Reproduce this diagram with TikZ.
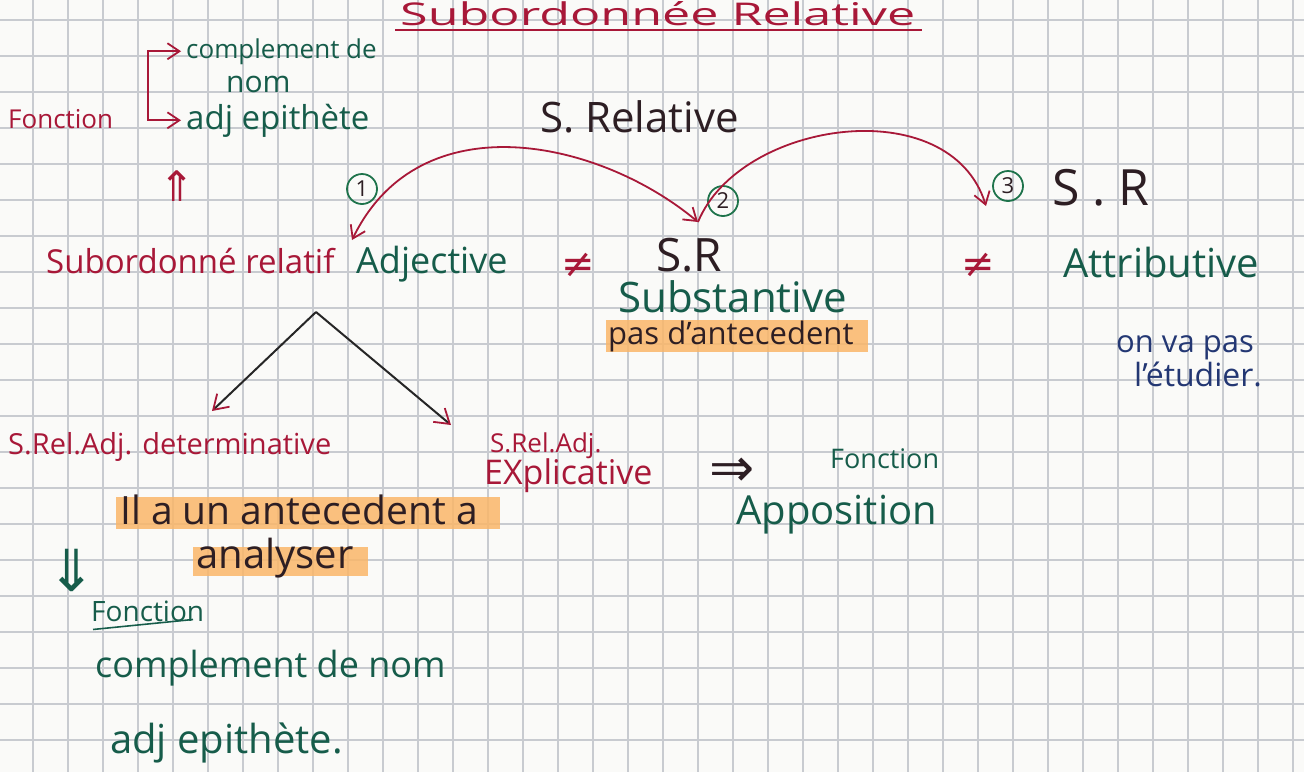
\documentclass[tikz,border=0pt]{standalone}
\usepackage{fontspec}
\setmainfont{Open Sans}
\newfontfamily\symf{DejaVu Sans}
\usetikzlibrary{arrows.meta}
\definecolor{cred}{RGB}{168,24,56}
\definecolor{cgreen}{RGB}{22,92,74}
\definecolor{cdark}{RGB}{45,30,35}
\definecolor{cblue}{RGB}{35,55,115}
\definecolor{ccirc}{RGB}{30,115,75}
\definecolor{chl}{RGB}{250,182,105}
\definecolor{cgrid}{RGB}{200,203,208}
\definecolor{cpaper}{RGB}{250,250,248}
\newcommand\fs[1]{\fontsize{#1}{#1}\selectfont}
\tikzset{
  txt/.style={inner sep=0pt, anchor=base west},
  sym/.style={inner sep=0pt, font=\symf\fs{#1}},
  circ/.style={circle, draw=ccirc, line width=1.8pt, inner sep=1pt, minimum size=30pt, text=cdark, font=\fs{22}},
  redarrow/.style={draw=cred, line width=1.8pt, -{Straight Barb[length=12pt,width=16pt,line width=1.8pt]}},
  redboth/.style={draw=cred, line width=1.8pt, {Straight Barb[length=12pt,width=16pt,line width=1.8pt]}-{Straight Barb[length=12pt,width=16pt,line width=1.8pt]}},
  treearrow/.style={draw=black!85, line width=2pt, -{Straight Barb[length=14pt,width=18pt,line width=1.8pt,color=cred]}},
  hl/.style={fill=chl, draw=none, opacity=0.85}
}
\begin{document}
\begin{tikzpicture}[x=1pt,y=-1pt]
\useasboundingbox (0,0) rectangle (1304,772);
\fill[cpaper] (0,0) rectangle (1304,772);
% grid paper
\foreach \i in {0,...,36} \draw[cgrid, line width=1.2pt] ({33+\i*35},0) -- ++(0,772);
\foreach \j in {0,...,21} \draw[cgrid, line width=1.2pt] (0,{20+\j*36}) -- ++(1304,0);
% highlights
\fill[hl] (606,320) rectangle (868,352);
\fill[hl] (116,497) rectangle (500,529);
\fill[hl] (193,547) rectangle (368,576);
% title
\node[txt, text=cred] (title) at (400,25) {\resizebox{515pt}{24pt}{\fs{32}Subordonnée Relative}};
\draw[cred, line width=2pt] (395,30) -- (922,30);
% top-left
\node[txt, text=cred, font=\fs{26}] (fonc1) at (8,128) {Fonction};
\node[txt, text=cgreen, font=\fs{26}] (comp1) at (186,58) {complement de};
\node[txt, text=cgreen, font=\fs{30}] (nom1) at (226,92) {nom};
\node[txt, text=cgreen, font=\fs{33}] (adjep1) at (186,129) {adj epithète};
\coordinate (bx) at (148,90);
\draw[redboth] ([xshift=-5pt]comp1.west) -| (bx) |- ([xshift=-5pt]adjep1.west);
\node[sym=42, text=cred] (uparr) at (177,186) {⇑};
% S. Relative
\node[txt, text=cdark, font=\fs{42}] (srel) at (540,132) {S. Relative};
% circled numbers
\node[circ] (c1) at (362,189) {1};
\node[circ] (c2) at (723,201) {2};
\node[circ] (c3) at (1008,186) {3};
% main row
\node[txt, text=cred, font=\fs{33}] (subrel) at (46,273) {Subordonné relatif};
\node[txt, text=cgreen, font=\fs{36}] (adjective) at (356,273) {Adjective};
\node[sym=40, text=cred] (neq1) at (578,265) {≠};
\node[txt, text=cdark, font=\fs{46}] (sr2) at (656,271) {S.R};
\node[txt, text=cgreen, font=\fs{42}] (subst) at (618,312) {Substantive};
\node[txt, text=cdark, font=\fs{31}] (pasant) at (608,344) {pas d'antecedent};
\node[sym=40, text=cred] (neq2) at (978,265) {≠};
\node[txt, text=cdark, font=\fs{50}] (sr3) at (1052,205) {S . R};
\node[txt, text=cgreen, font=\fs{40}] (attr) at (1063,277) {Attributive};
\node[txt, text=cblue, font=\fs{31}] (onva) at (1116,352) {on va pas};
\node[txt, text=cblue, font=\fs{32}] (etud) at (1134,386) {l'étudier.};
% curved arrows
\coordinate (tipA) at (352,240);
\coordinate (j) at (698,222);
\coordinate (tipC) at (986,206);
\draw[redboth] (tipA) .. controls (420,100) and (600,140) .. (j);
\draw[redarrow] (j) .. controls (740,120) and (950,90) .. (tipC);
% tree
\coordinate (apex) at (316,312);
\coordinate (tipL) at (212,411);
\coordinate (tipR) at (451,425);
\draw[treearrow] (apex) -- (tipL);
\draw[treearrow] (apex) -- (tipR);
% lower left
\node[txt, text=cred, font=\fs{29}] (det) at (8,454) {S.Rel.Adj. determinative};
\node[txt, text=cdark, font=\fs{39}] (ilaun) at (120,524) {Il a un antecedent a};
\node[txt, text=cdark, font=\fs{40}] (analy) at (196,568) {analyser};
\node[sym=58, text=cgreen] (downarr) at (72,570) {⇓};
\node[txt, text=cgreen, font=\fs{28}] (fonc3) at (91,621) {Fonction};
\draw[cgreen, line width=1.6pt] (fonc3.south west) ++(2,8) -- ++(100,-10);
\node[txt, text=cgreen, font=\fs{36}] (comp3) at (95,677) {complement de nom};
\node[txt, text=cgreen, font=\fs{40}] (adjep3) at (110,753) {adj epithète.};
% lower middle
\node[txt, text=cred, font=\fs{26}] (srad) at (490,452) {S.Rel.Adj.};
\node[txt, text=cred, font=\fs{34}] (expl) at (484,484) {EXplicative};
\node[sym=54, text=cdark] (rarr) at (732,472) {⇒};
\node[txt, text=cgreen, font=\fs{27}] (fonc2) at (830,468) {Fonction};
\node[txt, text=cgreen, font=\fs{40}] (appo) at (736,524) {Apposition};
\end{tikzpicture}
\end{document}
